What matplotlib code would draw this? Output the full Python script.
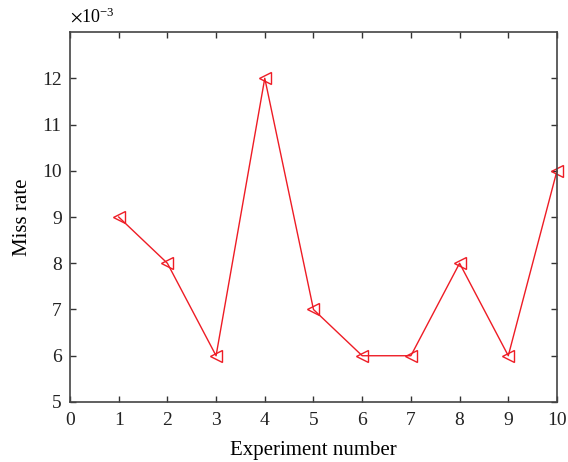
import numpy as np
import matplotlib.pyplot as plt

plt.rcParams['font.family'] = ['Liberation Serif', 'DejaVu Serif']
plt.rcParams['mathtext.fontset'] = 'stix'

experiment = [1, 2, 3, 4, 5, 6, 7, 8, 9, 10]
miss_rate = [9, 8, 6, 12, 7, 6, 6, 8, 6, 10]  # x 1e-3

fig = plt.figure(figsize=(5.68, 4.62), dpi=100)
ax = fig.add_axes([0.1232, 0.1299, 0.8574, 0.8008])

ax.plot(experiment, miss_rate, color='#ee1c25', lw=1.0, marker='<',
        markersize=9, markerfacecolor='none', markeredgecolor='#ee1c25',
        markeredgewidth=1.0, clip_on=False)

ax.set_xlim(0, 10)
ax.set_ylim(5, 13)
ax.set_xticks(range(0, 11))
ax.set_yticks(range(5, 13))
ax.tick_params(direction='in', top=True, right=True, length=4, width=1,
               labelsize=14, colors='#333333', labelcolor='#222222')
ax.tick_params(axis='x', pad=7)
ax.tick_params(axis='y', pad=6)
for s in ax.spines.values():
    s.set_color('#444444')
    s.set_linewidth(1.2)

ax.set_xlabel('Experiment number', fontsize=15, labelpad=9)
ax.set_ylabel('Miss rate', fontsize=15, labelpad=7)
ax.text(0.0, 1.015, r'$\times$10$^{\mathregular{-3}}$', transform=ax.transAxes,
        fontsize=13, ha='left', va='bottom')

fig.savefig('out.png', dpi=100)
